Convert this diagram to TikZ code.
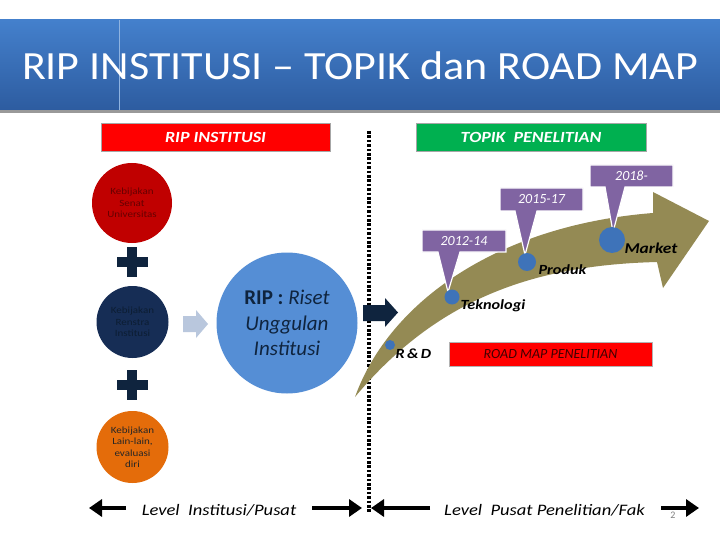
\documentclass[tikz,border=0pt]{standalone}
\usepackage{fontspec}
\setmainfont{Carlito}
\newfontfamily\widefont[FakeStretch=1.16,Ligatures=TeX]{Carlito}
\newfontfamily\titlefont[FakeStretch=1.1,Ligatures=TeX]{Carlito}
\usetikzlibrary{arrows.meta}
\definecolor{titleA}{RGB}{68,128,204}
\definecolor{titleB}{RGB}{45,92,160}
\definecolor{ripred}{RGB}{255,0,0}
\definecolor{topgreen}{RGB}{0,176,80}
\definecolor{darkred}{RGB}{192,0,0}
\definecolor{navy}{RGB}{22,45,85}
\definecolor{navydark}{RGB}{15,36,62}
\definecolor{orangec}{RGB}{228,108,10}
\definecolor{ripblue}{RGB}{85,142,213}
\definecolor{paleblue}{RGB}{185,199,221}
\definecolor{olive}{RGB}{148,138,84}
\definecolor{purp}{RGB}{128,100,162}
\definecolor{dotblue}{RGB}{62,115,185}
\tikzset{
  circnode/.style={circle, inner sep=0pt, align=center, font=\widefont\fontsize{9.5}{11.5}\selectfont},
  callout/.style={fill=purp, draw=white, line width=1.2pt},
  yeartext/.style={text=white, font=\fontsize{14}{16}\selectfont\itshape},
  stagelab/.style={font=\widefont\fontsize{14}{16}\selectfont\bfseries\itshape, anchor=west},
  stagedot/.style={circle, fill=dotblue, inner sep=0pt},
  levelarrow/.style={line width=4.5pt, -{Triangle[length=13pt,width=17pt]}},
  leveltext/.style={font=\widefont\fontsize{16}{18}\selectfont\itshape},
  plusc/.style={fill=navydark}
}
\begin{document}
\begin{tikzpicture}[x=1pt,y=-1pt]
\useasboundingbox (0,0) rectangle (720,540);
\fill[white] (0,0) rectangle (720,540);
% title band
\shade[top color=titleA, bottom color=titleB] (0,20) rectangle (720,110);
\fill[gray!80] (0,110) rectangle (720,113);
\draw[titleA!60!white, line width=0.5pt] (119,20) -- (119,110);
\node[text=white, font=\titlefont\fontsize{40}{44}\selectfont] (title) at (360,66) {RIP INSTITUSI – TOPIK dan ROAD MAP};
% header boxes
\node[fill=ripred, draw=gray!70, minimum width=229pt, minimum height=28pt, inner sep=0pt,
      text=white, font=\widefont\fontsize{15.5}{18}\selectfont\bfseries\itshape] (riphdr) at (215.5,137) {RIP INSTITUSI};
\node[fill=topgreen, draw=gray!70, minimum width=230pt, minimum height=28pt, inner sep=0pt,
      text=white, font=\widefont\fontsize{15.5}{18}\selectfont\bfseries\itshape] (tophdr) at (531,137) {TOPIK\ \ PENELITIAN};
% dotted divider
\coordinate (divtop) at (369,131);
\coordinate (divbot) at (369,512);
\draw[line width=4pt, dash pattern=on 2.6pt off 1.8pt] (divtop) -- (divbot);
% left circles
\node[circnode, fill=darkred, minimum size=80pt, text=red!40!black] (senat) at (132,203) {Kebijakan\\Senat\\Universitas};
\fill[plusc] (117,257) rectangle (148,267);
\fill[plusc] (127,247) rectangle (137,277);
\node[circnode, fill=navy, minimum size=72pt, text=navydark!80!black] (renstra) at (132.5,322) {Kebijakan\\Renstra\\Institusi};
\fill[plusc] (117,380) rectangle (148,390);
\fill[plusc] (127,370) rectangle (137,400);
\node[circnode, fill=orangec, minimum size=72pt, text=black!85] (lain) at (132.5,447) {Kebijakan\\Lain-lain,\\evaluasi\\diri};
% pale arrow
\fill[paleblue] (183,316) -- (196,316) -- (196,310) -- (208,324) -- (196,338) -- (196,332) -- (183,332) -- cycle;
% RIP big circle
\node[circle, fill=ripblue, minimum size=141pt, inner sep=0pt, align=center, text=navydark,
      font=\fontsize{21}{25.5}\selectfont] (rip) at (287,323) {\textbf{RIP :} \textit{Riset}\\\textit{Unggulan}\\\textit{Institusi}};
% navy block arrow
\fill[navydark] (363,305) -- (385,305) -- (385,298) -- (398,312.5) -- (385,327) -- (385,321) -- (363,321) -- cycle;
% big curved arrow
\fill[olive] (355,397) .. controls (390,300) and (500,225) .. (653,213)
  -- (653,192) -- (709,221) -- (663,288) -- (657,262)
  .. controls (540,265) and (440,295) .. (355,397) -- cycle;
% callouts
\fill[callout] (422,230) -- (506,230) -- (506,252) -- (460,252) -- (448,292) -- (438,252) -- (422,252) -- cycle;
\node[yeartext] (y1) at (464,241) {2012-14};
\fill[callout] (500,188) -- (583,188) -- (583,211) -- (537,211) -- (525,255) -- (515,211) -- (500,211) -- cycle;
\node[yeartext] (y2) at (541.5,199.5) {2015-17};
\fill[callout] (590,165) -- (673,165) -- (673,187) -- (625,187) -- (613,232) -- (605,187) -- (590,187) -- cycle;
\node[yeartext] (y3) at (631.5,176) {2018-};
% stage dots
\node[stagedot, minimum size=10pt] (drd) at (390,345) {};
\node[stagedot, minimum size=15pt] (dtek) at (452,297) {};
\node[stagedot, minimum size=18pt] (dpro) at (527,262) {};
\node[stagedot, minimum size=26pt] (dmar) at (612,240) {};
\node[stagelab] (lrd) at (392,354) {R\,\&\,D};
\node[stagelab] (ltek) at (457,306) {Teknologi};
\node[stagelab] (lpro) at (535,270) {Produk};
\node[stagelab, font=\widefont\fontsize{15}{17}\selectfont\bfseries\itshape] (lmar) at (621,248) {Market};
% road map box
\node[fill=ripred, draw=gray!60, minimum width=203pt, minimum height=24pt, inner sep=0pt,
      text=red!25!black, font=\fontsize{14}{15}\selectfont\itshape] (roadmap) at (550.5,354) {ROAD MAP PENELITIAN};
% bottom level arrows
\node[leveltext] (lvl1) at (219,510) {Level\ \ Institusi/Pusat};
\coordinate (a1s) at (126,508); \coordinate (a1e) at (89,508);
\coordinate (a2s) at (312,508); \coordinate (a2e) at (362,508);
\draw[levelarrow] (a1s) -- (a1e);
\draw[levelarrow] (a2s) -- (a2e);
\node[leveltext] (lvl2) at (544.5,510) {Level\ \ Pusat Penelitian/Fak};
\coordinate (a3s) at (430,508); \coordinate (a3e) at (371,508);
\coordinate (a4s) at (661,508); \coordinate (a4e) at (699,508);
\draw[levelarrow] (a3s) -- (a3e);
\draw[levelarrow] (a4s) -- (a4e);
\node[text=gray, font=\fontsize{10}{12}\selectfont] (pg) at (673,515) {2};
\end{tikzpicture}
\end{document}
